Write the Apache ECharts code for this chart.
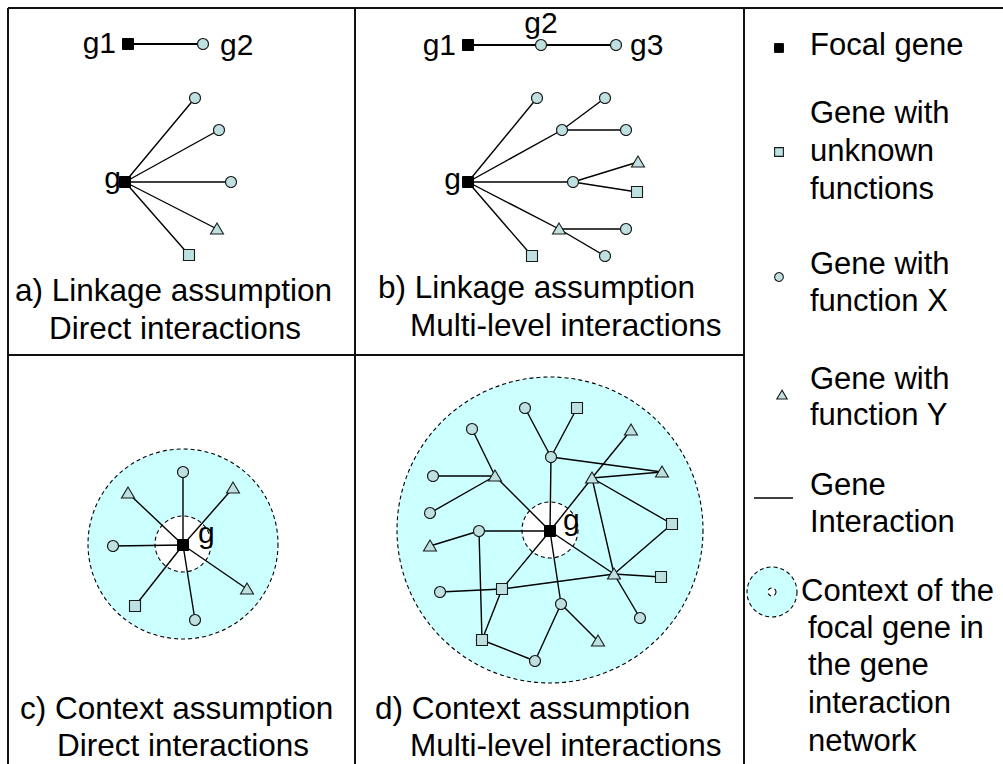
<!DOCTYPE html>
<html>
<head>
<meta charset="utf-8">
<script src="https://cdn.jsdelivr.net/npm/echarts@6/dist/echarts.min.js"></script>
<style>
html,body{margin:0;padding:0;background:#fff;}
#chart{width:1003px;height:764px;}
</style>
</head>
<body>
<div id="chart"></div>
<script>
// ---------- DATA ----------
// gene kinds: F = focal gene, U = unknown function, X = function X, Y = function Y
// node positions (diagram units = pixels of the 1003x764 page)
const nodeNames = [
  'a_g1','a_g2','a_g','a1','a2','a3','a4','a5',
  'b_g1','b_g2','b_g3','b_g','b1','b2','b3','b4','b5','b6','b7','b8','b9','b10','b11',
  'c_g','c1','c2','c3','c4','c5','c6','c7',
  'd_g','d1','d2','d3','d4','d5','d6','d7','d8','d9','d10','d11','d12','d14','d15','d16','d17','d18','d19','d20','d21','d22','d23'
];
const nodeX = [
  128,203,125,195,219,231,217,189,
  468,541,616,468,537,562,605,626,573,638,637,559,626,605,532,
  183,183,233,247,195,135,113,128,
  550,525,577,472,631,551,662,433,495,592,430,672,479,430,614,661,440,502,561,640,598,482,535
];
const nodeY = [
  44,44,182,98,130,182,229,255,
  45,45,45,182,98,130,98,130,182,162,192,229,229,256,256,
  545,472,488,589,620,606,546,493,
  531,408,408,429,430,457,472,476,476,478,513,524,531,546,574,577,592,589,604,618,641,640,661
];
const nodeKind = [
  'F','X','F','X','X','X','Y','U',
  'F','X','X','F','X','X','X','X','X','Y','U','Y','X','X','U',
  'F','X','Y','Y','X','U','X','Y',
  'F','X','U','X','Y','X','Y','X','Y','Y','X','U','X','Y','Y','U','X','U','X','X','Y','U','X'
];
// gene interactions (pairs of node names); "strong" ones are the g1-g2-g3 examples
const linkSource = [
  'a_g1','a_g','a_g','a_g','a_g','a_g',
  'b_g1','b_g2','b_g','b_g','b2','b2','b_g','b5','b5','b_g','b8','b8','b_g',
  'c_g','c_g','c_g','c_g','c_g','c_g','c_g',
  'd1','d2','d5','d5','d3','d7','d10','d8','d4','d9','d9','d9','d9','d11','d_g','d15','d15','d15','d12','d12','d12','d_g','d17','d18','d22','d23','d_g','d19'
];
const linkTarget = [
  'a_g2','a1','a2','a3','a4','a5',
  'b_g2','b_g3','b1','b2','b3','b4','b5','b6','b7','b8','b9','b10','b11',
  'c1','c2','c3','c4','c5','c6','c7',
  'd5','d5','d_g','d6','d8','d8','d8','d_g','d9','d_g','d6','d11','d15','d15','d15','d16','d20','d18','d_g','d14','d22','d18','d18','d22','d23','d19','d19','d21'
];
const linkStrong = [
  1,0,0,0,0,0,
  1,1,0,0,0,0,0,0,0,0,0,0,0,
  0,0,0,0,0,0,0,
  0,0,0,0,0,0,0,0,0,0,0,0,0,0,0,0,0,0,0,0,0,0,0,0,0,0,0,0
];
// context regions: centre and radius (outer = context, inner = focal gene hole)
const contextX = [183, 550, 772];
const contextY = [544, 530, 592];
const contextOuterR = [95, 153, 25];
const contextInnerR = [28, 28, 4];

// legend
const legendSymbolKind = ['F','U','X','Y'];
const legendSymbolX = [779, 779, 779, 782];
const legendSymbolY = [48, 152, 277, 395];
const legendLine = [754, 793, 498];

// panel frame lines [x1,y1,x2,y2]
const frameX1 = [8, 8, 355, 744, 8];
const frameY1 = [8, 8, 8, 8, 355];
const frameX2 = [1003, 8, 355, 744, 744];
const frameY2 = [8, 764, 764, 764, 355];

// text labels
const labelText = [
  'g1','g2','g','a) Linkage assumption','Direct interactions',
  'g1','g2','g3','g','b) Linkage assumption','Multi-level interactions',
  'g','c) Context assumption','Direct interactions',
  'g','d) Context assumption','Multi-level interactions',
  'Focal gene','Gene with','unknown','functions','Gene with','function X','Gene with','function Y','Gene','Interaction',
  'Context of the','focal gene in','the gene','interaction','network'
];
const labelX = [
  116,220,121,15,49,
  456,541,630,461,378,410,
  198,20,57,
  563,375,410,
  810,810,810,810,810,810,810,810,810,810,
  801,808,808,808,808
];
const labelY = [
  42,44,177,290,328,
  44,22,44,178,287,325,
  532,708,745,
  519,708,745,
  44,112,150,188,263,300,378,414,484,521,
  590,627,664,702,740
];
const labelAlign = [
  'right','left','right','left','left',
  'right','center','left','right','left','left',
  'left','left','left',
  'left','left','left',
  'left','left','left','left','left','left','left','left','left','left',
  'left','left','left','left','left'
];
const labelSize = [
  30,30,30,31.5,31.5,
  30,30,30,30,31.5,31.5,
  30,31.5,31.5,
  30,31.5,31.5,
  31,31,31,31,31,31,31,31,31,31,
  31,31,31,31,31
];

// ---------- STYLE ----------
const FONT = '"Liberation Sans", Arial, Helvetica, sans-serif';
const GENE_FILL = '#bfe0e0';
const GENE_STROKE = '#1a1a1a';
const CONTEXT_FILL = '#ccffff';

function nodeIndex(n){ return nodeNames.indexOf(n); }

function symbolShape(kind, p, small){
  const s = small ? 0.8 : 1;
  if (kind === 'F') {
    const h = 5.5 * s;
    return {type:'rect', shape:{x:p[0]-h, y:p[1]-h, width:2*h, height:2*h},
      style:{fill:'#000', stroke:'#000', lineWidth:1}};
  }
  if (kind === 'U') {
    const h = 5.5 * s;
    return {type:'rect', shape:{x:p[0]-h, y:p[1]-h, width:2*h, height:2*h},
      style:{fill:GENE_FILL, stroke:GENE_STROKE, lineWidth:1.1}};
  }
  if (kind === 'X') {
    return {type:'circle', shape:{cx:p[0], cy:p[1], r:5.5*s},
      style:{fill:GENE_FILL, stroke:GENE_STROKE, lineWidth:1.1}};
  }
  const w = 6.5 * s, up = 6 * s, dn = 5 * s;
  return {type:'polygon', shape:{points:[[p[0], p[1]-up],[p[0]-w, p[1]+dn],[p[0]+w, p[1]+dn]]},
    style:{fill:GENE_FILL, stroke:GENE_STROKE, lineWidth:1.1}};
}

const chart = echarts.init(document.getElementById('chart'), null, {renderer:'svg', width:1003, height:764});

const option = {
  animation:false,
  backgroundColor:'#ffffff',
  grid:{left:0, right:0, top:0, bottom:0},
  xAxis:{type:'value', min:0, max:1003, show:false},
  yAxis:{type:'value', min:0, max:764, inverse:true, show:false},
  series:[
    { // context regions
      type:'custom', coordinateSystem:'cartesian2d', z:1,
      data: contextX.map((x,i)=>[x, contextY[i]]),
      renderItem:function(params, api){
        const i = params.dataIndex;
        const c = api.coord([contextX[i], contextY[i]]);
        const ro = api.size([contextOuterR[i], 0])[0];
        const ri = api.size([contextInnerR[i], 0])[0];
        return {type:'group', children:[
          {type:'circle', shape:{cx:c[0], cy:c[1], r:ro},
            style:{fill:CONTEXT_FILL, stroke:'#000', lineWidth:1.1, lineDash:[4,3]}},
          {type:'circle', shape:{cx:c[0], cy:c[1], r:ri},
            style:{fill:'#fff', stroke:'#000', lineWidth:1.1, lineDash:[4,3]}}
        ]};
      }
    },
    { // frame
      type:'custom', coordinateSystem:'cartesian2d', z:2,
      data: frameX1.map((x,i)=>[x, frameY1[i]]),
      renderItem:function(params, api){
        const i = params.dataIndex;
        const a = api.coord([frameX1[i], frameY1[i]]);
        const b = api.coord([frameX2[i], frameY2[i]]);
        return {type:'line', shape:{x1:a[0], y1:a[1], x2:b[0], y2:b[1]},
          style:{stroke:'#111', lineWidth:2}};
      }
    },
    { // interactions
      type:'custom', coordinateSystem:'cartesian2d', z:3,
      data: linkSource.map((s,i)=>[nodeX[nodeIndex(s)], nodeY[nodeIndex(s)]]),
      renderItem:function(params, api){
        const i = params.dataIndex;
        const s = nodeIndex(linkSource[i]), t = nodeIndex(linkTarget[i]);
        const a = api.coord([nodeX[s], nodeY[s]]);
        const b = api.coord([nodeX[t], nodeY[t]]);
        return {type:'line', shape:{x1:a[0], y1:a[1], x2:b[0], y2:b[1]},
          style:{stroke:'#000', lineWidth: linkStrong[i] ? 2.2 : 1.4}};
      }
    },
    { // legend line
      type:'custom', coordinateSystem:'cartesian2d', z:3,
      data:[[legendLine[0], legendLine[2]]],
      renderItem:function(params, api){
        const a = api.coord([legendLine[0], legendLine[2]]);
        const b = api.coord([legendLine[1], legendLine[2]]);
        return {type:'line', shape:{x1:a[0], y1:a[1], x2:b[0], y2:b[1]},
          style:{stroke:'#000', lineWidth:1.4}};
      }
    },
    { // genes
      type:'custom', coordinateSystem:'cartesian2d', z:4,
      data: nodeX.map((x,i)=>[x, nodeY[i]]),
      renderItem:function(params, api){
        const i = params.dataIndex;
        const p = api.coord([nodeX[i], nodeY[i]]);
        return symbolShape(nodeKind[i], p, false);
      }
    },
    { // legend symbols
      type:'custom', coordinateSystem:'cartesian2d', z:4,
      data: legendSymbolX.map((x,i)=>[x, legendSymbolY[i]]),
      renderItem:function(params, api){
        const i = params.dataIndex;
        const p = api.coord([legendSymbolX[i], legendSymbolY[i]]);
        return symbolShape(legendSymbolKind[i], p, true);
      }
    },
    { // texts
      type:'custom', coordinateSystem:'cartesian2d', z:5,
      data: labelX.map((x,i)=>[x, labelY[i]]),
      renderItem:function(params, api){
        const i = params.dataIndex;
        const p = api.coord([labelX[i], labelY[i]]);
        return {type:'text', x:p[0], y:p[1],
          style:{text:labelText[i], fill:'#000', fontSize:labelSize[i], fontFamily:FONT,
            align:labelAlign[i], verticalAlign:'middle'}};
      }
    }
  ]
};
chart.setOption(option);
</script>
</body>
</html>
